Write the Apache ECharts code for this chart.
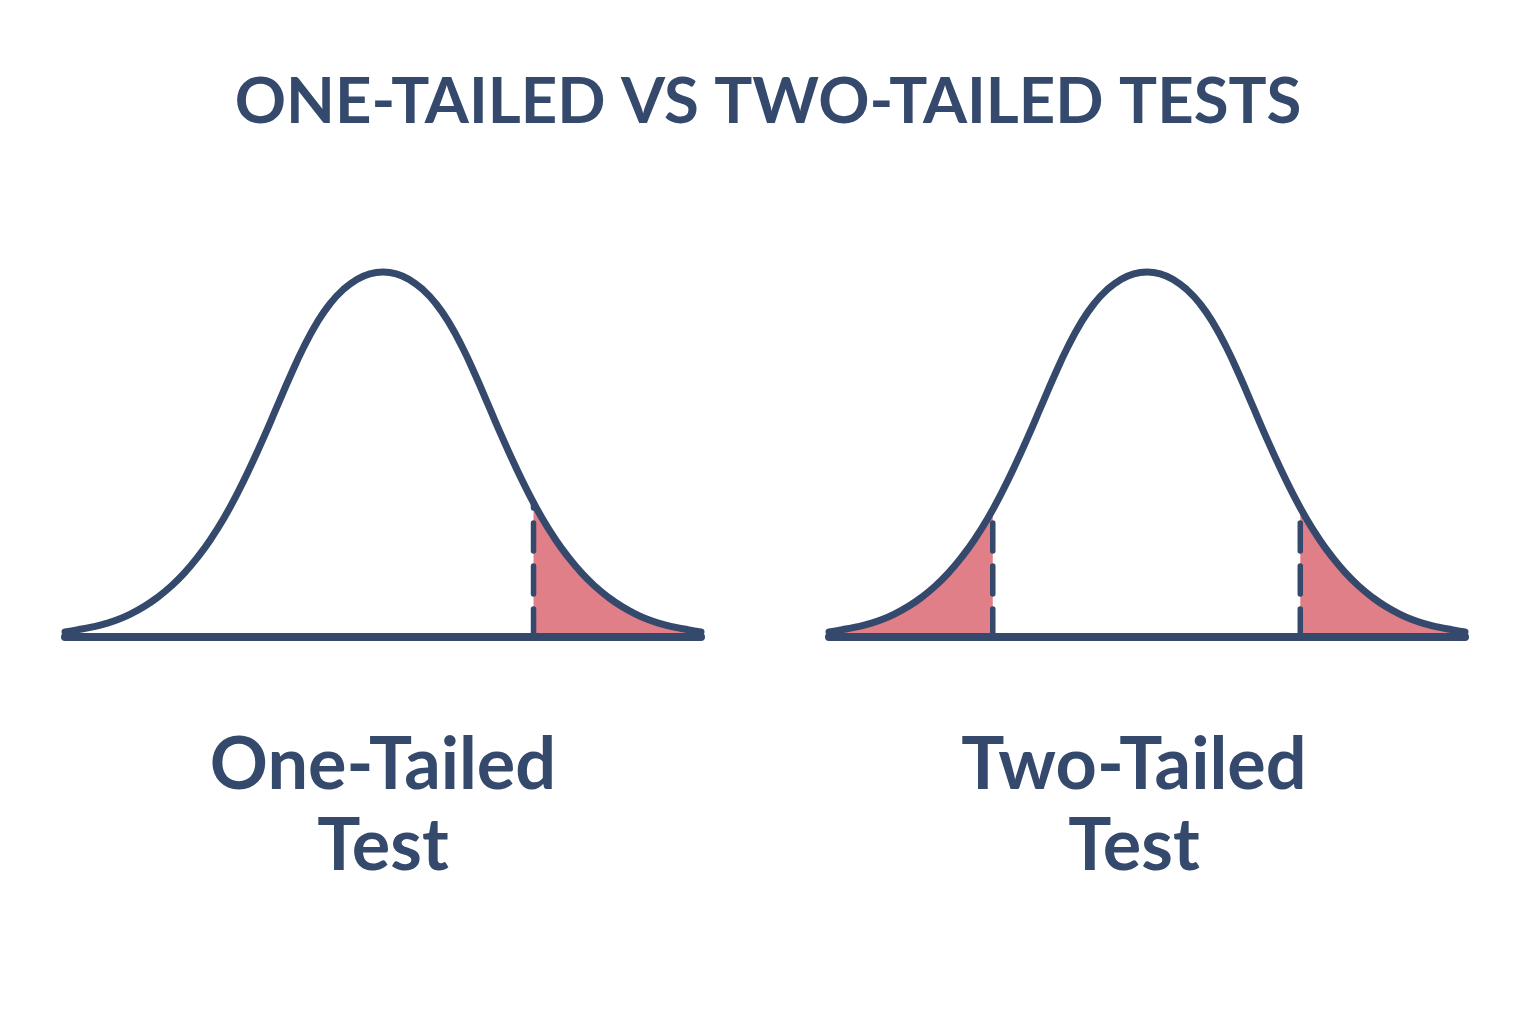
<!DOCTYPE html>
<html>
<head>
<meta charset="utf-8">
<title>One-tailed vs two-tailed tests</title>
<script src="https://cdn.jsdelivr.net/npm/echarts@6/dist/echarts.min.js"></script>
<style>
  html, body { margin: 0; padding: 0; background: #ffffff; }
  #chart { width: 1536px; height: 1024px; }
</style>
</head>
<body>
<div id="chart"></div>
<script>
// bell curve: x in widths from the centre, height as share of the peak
const curveX = [-3, -2.875, -2.75, -2.625, -2.5, -2.375, -2.25, -2.125, -2, -1.875, -1.75, -1.625,
  -1.5, -1.375, -1.25, -1.125, -1, -0.875, -0.75, -0.625, -0.5, -0.375, -0.25, -0.125, 0,
  0.125, 0.25, 0.375, 0.5, 0.625, 0.75, 0.875, 1, 1.125, 1.25, 1.375, 1.5,
  1.625, 1.75, 1.875, 2, 2.125, 2.25, 2.375, 2.5, 2.625, 2.75, 2.875, 3]
const curveY = [0.014, 0.020, 0.027, 0.036, 0.048, 0.064, 0.084, 0.109, 0.139, 0.175, 0.218, 0.268,
  0.326, 0.393, 0.467, 0.547, 0.631, 0.715, 0.793, 0.860, 0.913, 0.952, 0.979, 0.995, 1,
  0.995, 0.979, 0.952, 0.913, 0.860, 0.793, 0.715, 0.631, 0.547, 0.467, 0.393, 0.326,
  0.268, 0.218, 0.175, 0.139, 0.109, 0.084, 0.064, 0.048, 0.036, 0.027, 0.020, 0.014]

// critical value cut lines (x position, height where it meets the curve)
const oneTailedCutX = [1.42]
const oneTailedCutY = [0.367]
const twoTailedCutX = [-1.455, 1.446]
const twoTailedCutY = [0.35, 0.354]

const titleText = 'ONE-TAILED VS TWO-TAILED TESTS'
const panelLabels = ['One-Tailed\nTest', 'Two-Tailed\nTest']

const navy = '#34496b'
const rose = '#e07f87'

const chart = echarts.init(document.getElementById('chart'))

const curve = curveX.map((x, i) => [x, curveY[i]])

// tail region beyond a cut, on the side given by dir (1 = right, -1 = left)
function tail(cutX, cutY, dir) {
  const pts = curve.filter(p => (dir > 0 ? p[0] > cutX : p[0] < cutX))
  return dir > 0 ? [[cutX, cutY]].concat(pts) : pts.concat([[cutX, cutY]])
}

function panelSeries(idx, cutsX, cutsY) {
  const list = []
  cutsX.forEach((cx, k) => {
    const dir = cx > 0 ? 1 : -1
    list.push({
      type: 'line', xAxisIndex: idx, yAxisIndex: idx,
      data: tail(cx, cutsY[k], dir),
      smooth: 0.5, showSymbol: false, clip: false, silent: true,
      lineStyle: { width: 0 },
      areaStyle: { color: rose, opacity: 1 },
      z: 1
    })
    list.push({
      type: 'line', xAxisIndex: idx, yAxisIndex: idx,
      data: [[cx, 0], [cx, cutsY[k]]],
      showSymbol: false, clip: false, silent: true,
      lineStyle: { color: navy, width: 5.5, type: [28, 15], cap: 'round' },
      z: 2
    })
  })
  // baseline
  list.push({
    type: 'line', xAxisIndex: idx, yAxisIndex: idx,
    data: [[curveX[0], 0], [curveX[curveX.length - 1], 0]],
    showSymbol: false, clip: false, silent: true,
    lineStyle: { color: navy, width: 8, cap: 'round' },
    z: 3
  })
  // the curve itself
  list.push({
    type: 'line', xAxisIndex: idx, yAxisIndex: idx,
    data: curve,
    smooth: 0.5, showSymbol: false, clip: false, silent: true,
    lineStyle: { color: navy, width: 7, cap: 'round', join: 'round' },
    z: 4
  })
  return list
}

const hiddenX = { type: 'value', min: -3, max: 3, show: false }
const hiddenY = { type: 'value', min: 0, max: 1, show: false }

const labelStyle = {
  fontFamily: 'Lato', fontWeight: 'bold', fontSize: 72, lineHeight: 81, color: navy
}

chart.setOption({
  backgroundColor: '#ffffff',
  animation: false,
  title: [
    {
      text: titleText, left: 'center', top: 66,
      textStyle: { fontFamily: 'Lato', fontWeight: 'bold', fontSize: 63.5, lineHeight: 64, color: navy }
    },
    { text: panelLabels[0], left: 378, top: 720, textAlign: 'center', textStyle: labelStyle },
    { text: panelLabels[1], left: 1129, top: 720, textAlign: 'center', textStyle: labelStyle }
  ],
  grid: [
    { left: 65, top: 272, width: 636, height: 365 },
    { left: 829, top: 272, width: 636, height: 365 }
  ],
  xAxis: [Object.assign({ gridIndex: 0 }, hiddenX), Object.assign({ gridIndex: 1 }, hiddenX)],
  yAxis: [Object.assign({ gridIndex: 0 }, hiddenY), Object.assign({ gridIndex: 1 }, hiddenY)],
  series: panelSeries(0, oneTailedCutX, oneTailedCutY).concat(panelSeries(1, twoTailedCutX, twoTailedCutY))
})
</script>
</body>
</html>
